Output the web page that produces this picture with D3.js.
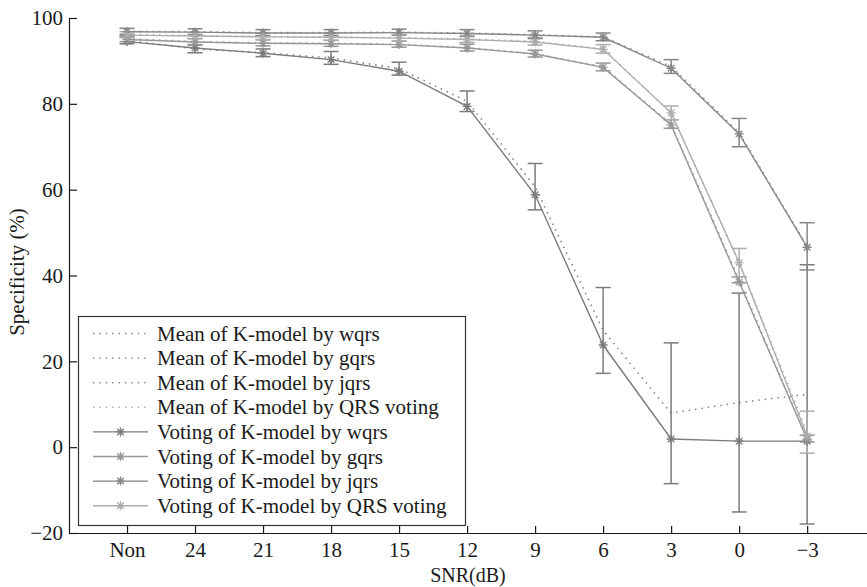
<!DOCTYPE html>
<html>
  <head>
    <meta charset="utf-8">
    <title>Specificity vs SNR</title>
    <script src="https://d3js.org/d3.v7.min.js"></script>
    <style>
      body { margin: 0; background: #fff; }
      svg { display: block; }
      text { font-family: "Liberation Serif", "Times New Roman", serif; fill: #1a1a1a; }
    </style>
  </head>
  <body>
    <svg id="chart" width="867" height="587"></svg>
    <script>
      // categories and tick labels
      snrLabels = ["Non", "24", "21", "18", "15", "12", "9", "6", "3", "0", "\u22123"];
      yTicks = [-20, 0, 20, 40, 60, 80, 100];

      // voting of K-model (solid, star markers)
      voteWqrs = [94.5, 93.0, 91.8, 90.3, 87.6, 79.4, 58.8, 23.8, 1.9, 1.4, 1.4];
      voteGqrs = [95.0, 94.4, 94.1, 94.0, 93.8, 93.0, 91.6, 88.5, 75.1, 38.5, 1.8];
      voteJqrs = [96.8, 96.7, 96.5, 96.5, 96.6, 96.4, 96.0, 95.5, 88.3, 73.0, 46.6];
      voteQrs  = [96.0, 95.8, 95.6, 95.5, 95.3, 95.0, 94.4, 92.7, 77.9, 43.0, 2.6];

      // mean of K-model (dotted) and its standard deviation (error bars)
      meanWqrs = [94.8, 92.8, 91.9, 90.7, 88.2, 80.6, 60.7, 27.2, 7.9, 10.4, 12.3];
      sdWqrs   = [0.8, 0.9, 0.9, 1.5, 1.5, 2.4, 5.4, 10.0, 16.4, 25.5, 30.2];
      meanGqrs = [95.2, 94.5, 94.2, 94.1, 93.9, 93.1, 91.7, 88.6, 75.3, 39.0, 2.0];
      sdGqrs   = [0.7, 0.7, 0.7, 0.7, 0.7, 0.8, 0.8, 0.9, 1.0, 0.7, 0.8];
      meanJqrs = [96.9, 96.8, 96.6, 96.6, 96.7, 96.5, 96.1, 95.6, 88.7, 73.3, 46.8];
      sdJqrs   = [0.7, 0.7, 0.7, 0.7, 0.7, 0.8, 0.9, 0.9, 1.6, 3.3, 5.5];
      meanQrs  = [96.1, 95.9, 95.7, 95.6, 95.4, 95.1, 94.6, 92.8, 77.9, 43.0, 3.5];
      sdQrs    = [0.7, 0.7, 0.7, 0.8, 0.8, 0.8, 0.9, 1.0, 1.6, 3.3, 4.9];

      legendLabels = [
        "Mean of K-model by wqrs", "Mean of K-model by gqrs",
        "Mean of K-model by jqrs", "Mean of K-model by QRS voting",
        "Voting of K-model by wqrs", "Voting of K-model by gqrs",
        "Voting of K-model by jqrs", "Voting of K-model by QRS voting"
      ];

      colours = { wqrs: "#7c7c7c", gqrs: "#979797", jqrs: "#868686", qrs: "#adadad" };

      series = [
        { key: "wqrs", vote: voteWqrs, mean: meanWqrs, sd: sdWqrs },
        { key: "gqrs", vote: voteGqrs, mean: meanGqrs, sd: sdGqrs },
        { key: "jqrs", vote: voteJqrs, mean: meanJqrs, sd: sdJqrs },
        { key: "qrs", vote: voteQrs, mean: meanQrs, sd: sdQrs }
      ];

      chart = d3.select("#chart");
      x = d3.scaleLinear().domain([-0.853, 10.88]).range([69, 867]);
      y = d3.scaleLinear().domain([-20, 100]).range([533, 18]);

      line = d3.line()
        .x(function(d, i) { return x(i); })
        .y(function(d) { return y(d); });

      // star marker like matlab "*"
      function star(r) {
        var a = r * 0.72;
        return "M" + (-r) + ",0L" + r + ",0M0," + (-r) + "L0," + r +
          "M" + (-a) + "," + (-a) + "L" + a + "," + a +
          "M" + (-a) + "," + a + "L" + a + "," + (-a);
      }

      plot = chart.append("g");

      // mean lines + error bars
      series.forEach(function(s) {
        plot.append("path")
          .attr("d", line(s.mean))
          .attr("fill", "none")
          .attr("stroke", colours[s.key])
          .attr("stroke-width", 1.6)
          .attr("stroke-dasharray", "1.4,5");
        var bars = plot.append("g")
          .attr("stroke", colours[s.key])
          .attr("stroke-width", 1.5)
          .attr("fill", "none");
        s.mean.forEach(function(m, i) {
          var lo = Math.max(m - s.sd[i], -20), hi = Math.min(m + s.sd[i], 100);
          bars.append("line")
            .attr("x1", x(i)).attr("x2", x(i))
            .attr("y1", y(lo)).attr("y2", y(hi));
          [lo, hi].forEach(function(v) {
            bars.append("line")
              .attr("x1", x(i) - 7.5).attr("x2", x(i) + 7.5)
              .attr("y1", y(v)).attr("y2", y(v));
          });
        });
      });

      // voting lines with star markers
      series.forEach(function(s) {
        plot.append("path")
          .attr("d", line(s.vote))
          .attr("fill", "none")
          .attr("stroke", colours[s.key])
          .attr("stroke-width", 1.4);
        plot.selectAll(null)
          .data(s.vote)
          .enter().append("path")
            .attr("transform", function(d, i) { return "translate(" + x(i) + "," + y(d) + ")"; })
            .attr("d", star(4.5))
            .attr("stroke", colours[s.key])
            .attr("stroke-width", 1.4)
            .attr("fill", "none");
      });

      // axes (matlab style, ticks inward)
      xAxis = d3.axisBottom(x)
        .tickValues(d3.range(snrLabels.length))
        .tickFormat(function(i) { return snrLabels[i]; })
        .tickSizeInner(-7)
        .tickSizeOuter(0)
        .tickPadding(9);
      yAxis = d3.axisLeft(y)
        .tickValues(yTicks)
        .tickFormat(function(d) { return d < 0 ? "\u2212" + Math.abs(d) : d; })
        .tickSizeInner(-8)
        .tickSizeOuter(0)
        .tickPadding(6);

      xAxisGroup = chart.append("g")
        .attr("transform", "translate(0," + y(-20) + ")")
        .call(xAxis);
      yAxisGroup = chart.append("g")
        .attr("transform", "translate(" + x(-0.853) + ",0)")
        .call(yAxis);
      [xAxisGroup, yAxisGroup].forEach(function(g) {
        g.selectAll("path, line").attr("stroke", "#1a1a1a").attr("stroke-width", 1.2);
        g.selectAll("text")
          .style("font-family", "'Liberation Serif', 'Times New Roman', serif")
          .style("font-size", "21px")
          .attr("fill", "#1a1a1a");
      });
      xAxisGroup.selectAll(".tick line").attr("y1", 0);

      chart.append("text")
        .attr("x", 468).attr("y", 582)
        .attr("text-anchor", "middle")
        .style("font-size", "20px")
        .text("SNR(dB)");
      chart.append("text")
        .attr("transform", "translate(24,272) rotate(-90)")
        .attr("text-anchor", "middle")
        .style("font-size", "21px")
        .text("Specificity (%)");

      // legend
      legend = chart.append("g");
      legend.append("rect")
        .attr("x", 78.5).attr("y", 316.5)
        .attr("width", 387).attr("height", 209)
        .attr("fill", "#fff")
        .attr("stroke", "#333")
        .attr("stroke-width", 1.2);
      legendKeys = ["wqrs", "gqrs", "jqrs", "qrs", "wqrs", "gqrs", "jqrs", "qrs"];
      legendLabels.forEach(function(label, i) {
        var cy = 333.5 + i * 24.6;
        var c = colours[legendKeys[i]];
        var row = legend.append("g");
        row.append("line")
          .attr("x1", 93).attr("x2", 148)
          .attr("y1", cy).attr("y2", cy)
          .attr("stroke", c)
          .attr("stroke-width", i < 4 ? 1.6 : 1.4)
          .attr("stroke-dasharray", i < 4 ? "1.4,5" : null);
        if (i >= 4) {
          row.append("path")
            .attr("transform", "translate(120.5," + cy + ")")
            .attr("d", star(4.5))
            .attr("stroke", c)
            .attr("stroke-width", 1.4)
            .attr("fill", "none");
        }
        row.append("text")
          .attr("x", 157).attr("y", cy + 7)
          .style("font-size", "21px")
          .text(label);
      });
    </script>
  </body>
</html>
